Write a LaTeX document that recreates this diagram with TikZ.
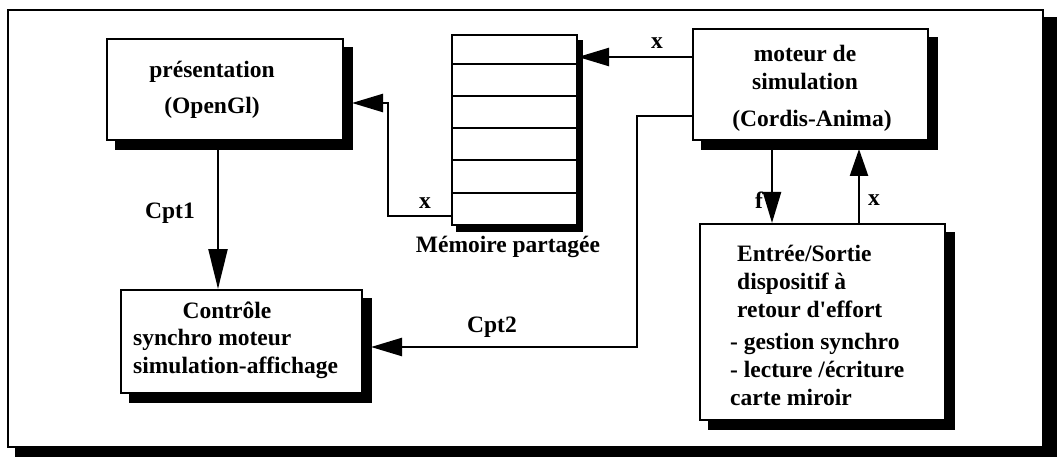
\documentclass[tikz,border=0pt]{standalone}
\usepackage{fontspec}
\setmainfont{Liberation Serif}
\usetikzlibrary{arrows.meta,calc,backgrounds}
\begin{document}
\begin{tikzpicture}[x=1pt,y=-1pt,
  every node/.style={font=\fontsize{23.5}{28}\selectfont\bfseries},
  boxshape/.style={draw,line width=2pt,fill=white,inner sep=0pt},
  shadowfill/.style={fill=black},
  lbl/.style={inner sep=0pt},
  arr/.style={line width=2.4pt,-{Triangle[length=31pt,width=18pt]}},
  ln/.style={line width=2.2pt}]
\useasboundingbox (0,0) rectangle (1060,457);
% boxes
\node[boxshape,minimum width=236pt,minimum height=101pt] (pres) at (225,89.5) {};
\node[boxshape,minimum width=235pt,minimum height=111pt] (mot) at (810.5,84.5) {};
\node[boxshape,minimum width=241pt,minimum height=103pt] (ctl) at (241.5,341.5) {};
\node[boxshape,minimum width=245pt,minimum height=196pt] (es) at (822.5,322) {};
\node[draw,line width=2pt,fill=white,inner sep=0pt,minimum width=125pt,minimum height=190pt] (mem) at (514.5,130) {};
\foreach \yy in {64,96,128,160,193} \draw[line width=1.8pt] (mem.west|-0,\yy) -- (mem.east|-0,\yy);
\begin{scope}[on background layer]
  \node[draw,line width=2.5pt,fill=white,inner sep=0pt,minimum width=1035pt,minimum height=437pt] (frame) at (525.5,228.5) {};
  \fill[shadowfill] ($(frame.north east)+(0,8)$) rectangle ($(frame.south east)+(13,11)$);
  \fill[shadowfill] ($(frame.south west)+(8,0)$) rectangle ($(frame.south east)+(13,11)$);
  \foreach \b in {pres,mot,ctl,es}
    \fill[shadowfill] ($(\b.north west)+(9,9)$) rectangle ($(\b.south east)+(9,9)$);
  \fill[shadowfill] ($(mem.north west)+(5,6)$) rectangle ($(mem.south east)+(5,6)$);
\end{scope}
% texts
\node[lbl] (tpres) at (212,90) {\begin{tabular}{@{}c@{}}présentation\\[8pt](OpenGl)\end{tabular}};
\node[lbl,align=center] (tmot1) at (805,67) {moteur de\\simulation};
\node[lbl] (tmot2) at (812,121) {(Cordis-Anima)};
\node[lbl] (tctl1) at (227,310) {Contrôle};
\node[lbl,anchor=west,align=left] (tctl2) at (133,354) {synchro moteur\\simulation-affichage};
\node[lbl,anchor=north west,align=left] (tes) at (730,245) {\hspace*{7pt}Entrée/Sortie\\\hspace*{7pt}dispositif à\\\hspace*{7pt}retour d\textquotesingle effort\\[4pt]- gestion synchro\\- lecture /écriture\\carte miroir};
\node[lbl] (tmem) at (508,247) {Mémoire partagée};
% connectors
\draw[arr] (mot.west|-0,57) -- (mem.east|-0,57);
\node[lbl] (lx1) at (657,43) {x};
\draw[arr] (mem.west|-0,216) -| (388,103) -- ($(pres.east|-0,103)+(8,0)$);
\node[lbl] (lx2) at (425,203) {x};
\draw[arr] (mot.west|-0,116) -| (637,347) -- ($(ctl.east|-0,347)+(8,0)$);
\node[lbl] (lcpt2) at (492,327) {Cpt2};
\draw[arr,-{Triangle[length=40pt,width=19pt]}] ($(pres.south-|218,0)+(0,8)$) -- (ctl.north-|218,0);
\node[lbl] (lcpt1) at (170,213) {Cpt1};
\draw[arr] ($(mot.south-|772,0)+(0,8)$) -- (es.north-|772,0);
\node[lbl] (lf) at (759,200) {f};
\draw[arr,-{Triangle[length=27pt,width=18pt]}] (es.north-|859,0) -- ($(mot.south-|859,0)+(0,8)$);
\node[lbl] (lx3) at (874,200) {x};
\end{tikzpicture}
\end{document}
